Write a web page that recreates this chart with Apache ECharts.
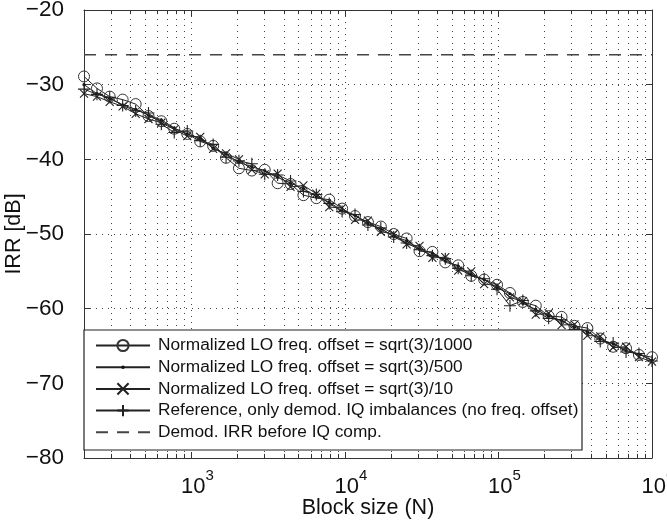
<!DOCTYPE html>
<html>
<head>
<meta charset="utf-8">
<title>IRR vs block size</title>
<script src="https://cdn.jsdelivr.net/npm/echarts@6/dist/echarts.min.js"></script>
<style>
    html, body { margin: 0; padding: 0; background: #fff; }
    #irrChart { width: 667px; height: 523px; }
</style>
</head>
<body>
<div id="irrChart"></div>
<script>
// block sizes N (x values, shared by all curves)
var blockSizes = [200, 243, 294, 357, 434, 526, 638, 774, 941, 1143, 1387, 1683, 2042, 2477, 3006,
    3648, 4426, 5370, 6516, 7907, 9594, 11641, 14125, 17140, 20797, 25235, 30620, 37154, 45082,
    54702, 66527, 80724, 97949, 118850, 144212, 174985, 212324, 257632, 312608, 379315, 460257,
    558470, 677641, 822243, 1000000];

// IRR [dB] for each curve
var irrOffset1000 = [-28.9, -30.5, -31.6, -32.0, -32.6, -34.2, -34.9, -35.9, -36.6, -37.6, -38.2,
    -39.8, -41.2, -41.5, -41.4, -43.2, -43.3, -44.8, -45.2, -45.4, -46.6, -47.6, -48.4, -49.0,
    -50.0, -50.6, -52.3, -52.4, -53.8, -54.2, -55.6, -56.1, -56.8, -57.9, -59.1, -59.6, -61.0,
    -61.1, -62.3, -62.6, -64.0, -65.1, -65.3, -66.2, -66.5];
var irrOffset500 = [-30.0, -31.2, -31.9, -32.7, -33.3, -34.1, -34.7, -35.8, -36.6, -37.2, -38.5,
    -39.3, -40.4, -41.0, -41.5, -42.4, -43.2, -43.9, -45.0, -45.7, -46.9, -47.5, -48.6, -49.3,
    -50.3, -50.9, -52.0, -52.6, -53.6, -54.3, -55.4, -56.1, -57.2, -58.0, -59.3, -60.1, -61.0,
    -61.6, -62.5, -63.1, -64.1, -64.7, -65.6, -66.1, -66.9];
var irrOffset10 = [-31.2, -31.6, -32.3, -32.9, -33.9, -34.6, -35.1, -36.0, -36.9, -37.0, -38.6,
    -39.2, -40.0, -41.4, -42.0, -41.9, -43.7, -43.5, -44.6, -46.4, -46.5, -48.1, -48.2, -49.7,
    -50.0, -51.4, -51.6, -53.2, -53.1, -54.9, -55.0, -56.7, -56.9, -58.5, -59.0, -60.8, -60.6,
    -62.2, -62.1, -63.6, -63.7, -65.2, -65.1, -66.5, -67.1];
var irrReference = [-30.6, -31.3, -31.7, -32.8, -33.5, -33.8, -35.3, -36.4, -36.2, -37.5, -38.0,
    -39.7, -40.2, -40.6, -42.0, -42.1, -42.9, -44.3, -44.7, -45.9, -47.0, -47.4, -48.8, -49.2,
    -50.4, -51.2, -52.1, -52.9, -53.3, -54.6, -55.6, -56.0, -57.4, -59.6, -58.9, -60.3, -61.3,
    -61.5, -62.8, -62.9, -64.4, -64.6, -65.8, -66.0, -67.0];
var irrBeforeComp = [-26, -26];
var irrBeforeCompN = [200, 1000000];

// minor log grid positions
var minorGridValues = [300, 400, 500, 600, 700, 800, 900,
    2000, 3000, 4000, 5000, 6000, 7000, 8000, 9000,
    20000, 30000, 40000, 50000, 60000, 70000, 80000, 90000,
    200000, 300000, 400000, 500000, 600000, 700000, 800000, 900000];

var seriesNames = [
    'Normalized LO freq. offset = sqrt(3)/1000',
    'Normalized LO freq. offset = sqrt(3)/500',
    'Normalized LO freq. offset = sqrt(3)/10',
    'Reference, only demod. IQ imbalances (no freq. offset)',
    'Demod. IRR before IQ comp.'
];

var FONT = 'Liberation Sans, Arial, sans-serif';
var DOTTED = { color: '#444', width: 1, type: [1, 5] };
// small dot inside a 10x10 box (so the legend keeps it small too)
var DOT_SYMBOL = 'path://M0,0L0,0M10,10L10,10M3.4,5A1.6,1.6 0 1,0 6.6,5A1.6,1.6 0 1,0 3.4,5Z';
var CIRCLE_SYMBOL = 'path://M0,5A5,5 0 1,0 10,5A5,5 0 1,0 0,5Z';
var CROSS_SYMBOL = 'path://M0,0L10,10M10,0L0,10';
var PLUS_SYMBOL = 'path://M5,0L5,10M0,5L10,5';

/**
 * 把 x 和 y 两个数组拼成 [[x, y], ...]
 */
function zipPoints(xs, ys) {
    var out = [];
    for (var i = 0; i < xs.length; i++) {
        out.push([xs[i], ys[i]]);
    }
    return out;
}

/**
 * 10 的整数次幂标签, 其他刻度不显示
 */
function formatPower(value) {
    var exp = Math.round(Math.log(value) / Math.LN10);
    if (Math.abs(Math.pow(10, exp) - value) > value * 1e-6) {
        return '';
    }
    return '{base|10}{exp|' + exp + '}';
}

function minorTickMarks() {
    var marks = [];
    for (var i = 0; i < minorGridValues.length; i++) {
        var v = minorGridValues[i];
        marks.push([{ coord: [v, -80] }, { coord: [v, -79.45] }]);
        marks.push([{ coord: [v, -20] }, { coord: [v, -20.55] }]);
    }
    return marks;
}

function lineSeries(name, ys, symbol, size, style) {
    return {
        name: name,
        type: 'line',
        data: zipPoints(blockSizes, ys),
        symbol: symbol,
        symbolSize: size,
        showAllSymbol: true,
        lineStyle: { color: '#222', width: 1 },
        itemStyle: style,
        z: 3
    };
}

var chart = echarts.init(document.getElementById('irrChart'));
var option = {
    animation: false,
    backgroundColor: '#fff',
    textStyle: { fontFamily: FONT, color: '#111' },
    grid: { left: 84, right: 15, top: 10, bottom: 65, outerBoundsMode: 'none', containLabel: false },
    graphic: [{
        // legend box
        type: 'rect',
        z: 20,
        shape: { x: 84, y: 330, width: 498, height: 120 },
        style: { fill: '#fff', stroke: '#222', lineWidth: 1.2 }
    }],
    legend: {
        data: seriesNames,
        orient: 'vertical',
        left: 84,
        top: 330,
        z: 30,
        itemWidth: 54,
        itemHeight: 14,
        itemGap: 4.7,
        padding: [7, 4, 4, 11],
        textStyle: { fontFamily: FONT, fontSize: 17.3, color: '#111', padding: [0, 0, 0, 3] }
    },
    xAxis: [{
        type: 'log',
        logBase: 10,
        min: 200,
        max: 1000000,
        position: 'bottom',
        name: 'Block size (N)',
        nameLocation: 'middle',
        nameGap: 39,
        nameMoveOverlap: false,
        nameTextStyle: { fontFamily: FONT, fontSize: 21.5, color: '#111' },
        axisLine: { lineStyle: { color: '#333', width: 1 } },
        axisTick: { inside: true, length: 6, lineStyle: { color: '#333' } },
        axisLabel: {
            formatter: formatPower,
            margin: 10,
            showMinLabel: false,
            rich: {
                base: { fontFamily: FONT, fontSize: 22, color: '#111', padding: [0, 0, 0, 12] },
                exp: { fontFamily: FONT, fontSize: 15, color: '#111', padding: [0, 0, 22, 0] }
            }
        },
        splitLine: { show: true, lineStyle: DOTTED }
    }, {
        type: 'log',
        logBase: 10,
        min: 200,
        max: 1000000,
        position: 'top',
        axisLine: { lineStyle: { color: '#333', width: 1 } },
        axisTick: { inside: true, length: 6, lineStyle: { color: '#333' } },
        axisLabel: { show: false },
        splitLine: { show: false }
    }],
    yAxis: [{
        type: 'value',
        min: -80,
        max: -20,
        interval: 10,
        name: 'IRR [dB]',
        nameLocation: 'middle',
        nameGap: 59,
        nameMoveOverlap: false,
        nameTextStyle: { fontFamily: FONT, fontSize: 21.5, color: '#111' },
        axisLine: { show: true, lineStyle: { color: '#333', width: 1 } },
        axisTick: { inside: true, length: 6, lineStyle: { color: '#333' } },
        axisLabel: {
            fontFamily: FONT,
            fontSize: 22.5,
            color: '#111',
            margin: 20,
            formatter: function (v) { return String(v).replace('-', '\u2212'); }
        },
        splitLine: { show: true, lineStyle: DOTTED }
    }, {
        type: 'value',
        min: -80,
        max: -20,
        interval: 10,
        position: 'right',
        axisLine: { show: true, lineStyle: { color: '#333', width: 1 } },
        axisTick: { inside: true, length: 6, lineStyle: { color: '#333' } },
        axisLabel: { show: false },
        splitLine: { show: false }
    }],
    series: [
        lineSeries(seriesNames[0], irrOffset1000, CIRCLE_SYMBOL, 11,
            { color: 'rgba(255,255,255,0)', borderColor: '#333', borderWidth: 1 }),
        lineSeries(seriesNames[1], irrOffset500, DOT_SYMBOL, 10,
            { color: '#111' }),
        lineSeries(seriesNames[2], irrOffset10, CROSS_SYMBOL, 8,
            { color: '#222', borderColor: '#222', borderWidth: 1.1 }),
        lineSeries(seriesNames[3], irrReference, PLUS_SYMBOL, 12,
            { color: '#222', borderColor: '#222', borderWidth: 1.1 }),
        {
            name: seriesNames[4],
            type: 'line',
            data: zipPoints(irrBeforeCompN, irrBeforeComp),
            symbol: 'circle',
            showSymbol: false,
            lineStyle: { color: '#444', width: 1.4, type: [12, 9] },
            itemStyle: { color: 'rgba(0,0,0,0)' },
            z: 3
        },
        {
            // minor log grid
            name: 'grid',
            type: 'line',
            data: [],
            silent: true,
            markLine: {
                silent: true,
                symbol: 'none',
                label: { show: false },
                lineStyle: DOTTED,
                data: minorGridValues.map(function (v) { return { xAxis: v }; })
            },
            z: 1
        },
        {
            // minor ticks top and bottom
            name: 'ticks',
            type: 'line',
            data: [],
            silent: true,
            markLine: {
                silent: true,
                symbol: 'none',
                label: { show: false },
                lineStyle: { color: '#333', width: 1, type: 'solid' },
                data: minorTickMarks()
            },
            z: 2
        }
    ]
};
chart.setOption(option);
</script>
</body>
</html>
